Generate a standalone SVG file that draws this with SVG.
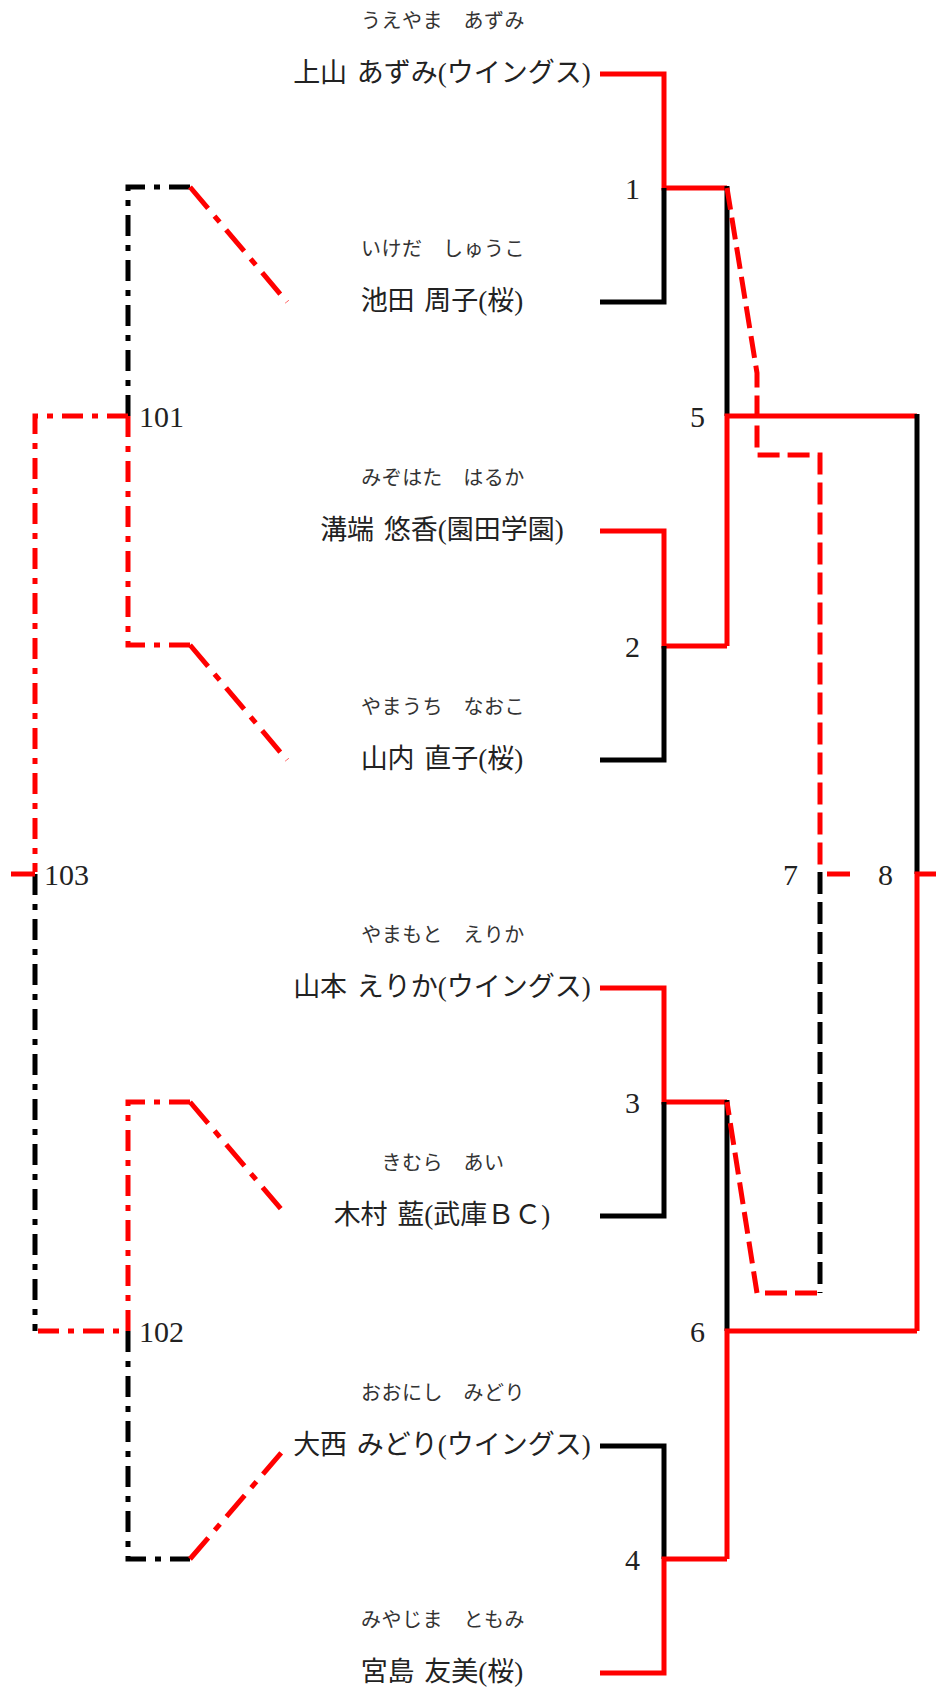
<svg xmlns="http://www.w3.org/2000/svg" width="936" height="1690" viewBox="0 0 936 1690">
<style>
.bg{fill:#fff}
.name{font-family:"Liberation Serif","Noto Sans CJK JP",serif;font-size:27px;fill:#222;text-anchor:middle;word-spacing:3px}
.kana{font-family:"Noto Sans CJK JP",sans-serif;font-size:20px;fill:#333;text-anchor:middle;letter-spacing:0.5px}
.num{font-family:"Liberation Serif",serif;font-size:30px;fill:#222}
.e{text-anchor:end}
.s{fill:none;stroke-width:5;stroke-linecap:butt;stroke-linejoin:miter}
.r{stroke:#ff0000}
.k{stroke:#000}
.dd{stroke-dasharray:21 9 6 9}
.dg{stroke-dasharray:28 10 8 10}
.da{stroke-dasharray:22 8}
</style>
<rect class="bg" x="0" y="0" width="936" height="1690"/>
<g id="connectors">
  <path class="s r" d="M600 74 H664 V188 H727"/>
  <path class="s k" d="M600 302 H664 V188"/>
  <path class="s r" d="M600 531 H664 V646 H727"/>
  <path class="s k" d="M600 760 H664 V646"/>
  <path class="s k" d="M727 186 V416"/>
  <path class="s r" d="M727 646 V416 H917"/>
  <path class="s r" d="M600 988 H664 V1102 H727"/>
  <path class="s k" d="M600 1216 H664 V1102"/>
  <path class="s k" d="M600 1446 H664 V1559"/>
  <path class="s r" d="M600 1673 H664 V1559 H727"/>
  <path class="s k" d="M727 1100 V1331"/>
  <path class="s r" d="M727 1559 V1331 H917"/>
  <path class="s k" d="M917 414 V874"/>
  <path class="s r" d="M917 1331 V874 H936"/>
  <path class="s r da" d="M727 188 L757 373 V455 H820 V872"/>
  <path class="s k da" d="M820 872 V1293"/>
  <path class="s r da" d="M817 1293 H757 L727 1102"/>
  <path class="s r" d="M827 874 H850"/>
  <path class="s k dd" d="M190 187 H128 V416"/>
  <path class="s r dg" d="M190 187 L287 302"/>
  <path class="s r dd" d="M128 416 V645 H190"/>
  <path class="s r dg" d="M190 645 L287 760"/>
  <path class="s r dd" d="M128 416 H35 V872"/>
  <path class="s r dd" d="M190 1102 H128 V1331 H35"/>
  <path class="s r dg" d="M190 1102 L287 1216"/>
  <path class="s k dd" d="M128 1331 V1559 H190"/>
  <path class="s r dg" d="M190 1559 L287 1446"/>
  <path class="s k dd" d="M35 874 V1331"/>
  <path class="s r" d="M11 874 H35"/>
</g>
<g id="p1"><text class="kana" x="443" y="28">うえやま　あずみ</text><text class="name" x="442" y="82">上山 あずみ(ウイングス)</text></g>
<g id="p2"><text class="kana" x="443" y="256">いけだ　しゅうこ</text><text class="name" x="442" y="310">池田 周子(桜)</text></g>
<g id="p3"><text class="kana" x="443" y="485">みぞはた　はるか</text><text class="name" x="442" y="539">溝端 悠香(園田学園)</text></g>
<g id="p4"><text class="kana" x="443" y="714">やまうち　なおこ</text><text class="name" x="442" y="768">山内 直子(桜)</text></g>
<g id="p5"><text class="kana" x="443" y="942">やまもと　えりか</text><text class="name" x="442" y="996">山本 えりか(ウイングス)</text></g>
<g id="p6"><text class="kana" x="443" y="1170">きむら　あい</text><text class="name" x="442" y="1224">木村 藍(武庫ＢＣ)</text></g>
<g id="p7"><text class="kana" x="443" y="1400">おおにし　みどり</text><text class="name" x="442" y="1454">大西 みどり(ウイングス)</text></g>
<g id="p8"><text class="kana" x="443" y="1627">みやじま　ともみ</text><text class="name" x="442" y="1681">宮島 友美(桜)</text></g>
<g id="m1"><text class="num e" x="640" y="199">1</text></g>
<g id="m2"><text class="num e" x="640" y="657">2</text></g>
<g id="m3"><text class="num e" x="640" y="1113">3</text></g>
<g id="m4"><text class="num e" x="640" y="1570">4</text></g>
<g id="m5"><text class="num e" x="705" y="427">5</text></g>
<g id="m6"><text class="num e" x="705" y="1342">6</text></g>
<g id="m7"><text class="num e" x="798" y="885">7</text></g>
<g id="m8"><text class="num e" x="893" y="885">8</text></g>
<g id="m101"><text class="num" x="139" y="427">101</text></g>
<g id="m102"><text class="num" x="139" y="1342">102</text></g>
<g id="m103"><text class="num" x="44" y="885">103</text></g>
</svg>
